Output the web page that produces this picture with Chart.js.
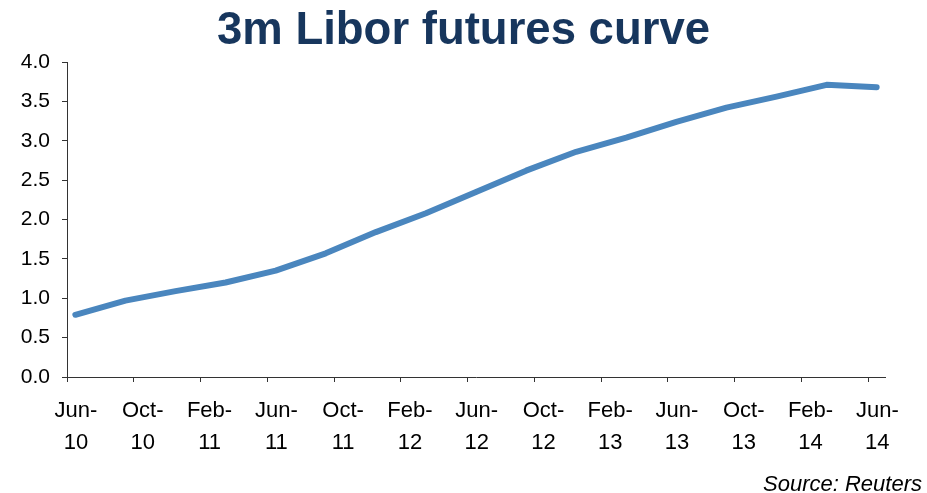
<!DOCTYPE html>
<html>
<head>
<meta charset="utf-8">
<script src="https://cdn.jsdelivr.net/npm/chart.js@4/dist/chart.umd.min.js"></script>
<style>
  html, body { margin: 0; padding: 0; background: #fff; }
  #wrap { width: 927px; height: 493px; position: relative; }
</style>
</head>
<body>
<div id="wrap"><canvas id="curve"></canvas></div>
<script>
// Quarterly 3m Libor contracts and their implied rates (%)
const contracts = ['Jun-10', 'Sep-10', 'Dec-10', 'Mar-11', 'Jun-11', 'Sep-11', 'Dec-11', 'Mar-12', 'Jun-12',
                   'Sep-12', 'Dec-12', 'Mar-13', 'Jun-13', 'Sep-13', 'Dec-13', 'Mar-14', 'Jun-14'];
const rates = [0.79, 0.97, 1.09, 1.20, 1.35, 1.57, 1.84, 2.08, 2.35, 2.62, 2.86, 3.04, 3.24, 3.42, 3.56, 3.71, 3.68];

// Date axis labels, one every four months
const tickLabels = ['Jun-10', 'Oct-10', 'Feb-11', 'Jun-11', 'Oct-11', 'Feb-12', 'Jun-12',
                    'Oct-12', 'Feb-13', 'Jun-13', 'Oct-13', 'Feb-14', 'Jun-14'];
const yTicks = [0, 0.5, 1, 1.5, 2, 2.5, 3, 3.5, 4];

const TITLE = '3m Libor futures curve';
const SOURCE = 'Source: Reuters';

const MONTHS = ['Jan', 'Feb', 'Mar', 'Apr', 'May', 'Jun', 'Jul', 'Aug', 'Sep', 'Oct', 'Nov', 'Dec'];
// months counted from the start of Jun-10
const monthIndex = lbl => {
    const [m, y] = lbl.split('-');
    return (Number(y) - 10) * 12 + MONTHS.indexOf(m) - 5;
};
// contracts settle mid-month
const points = contracts.map((c, i) => ({ x: monthIndex(c) + 0.5, y: rates[i] }));

const FONT = "'Liberation Sans', Arial, sans-serif";

// title and source line
const captions = {
    id: 'captions',
    afterDraw(chart) {
        const ctx = chart.ctx;
        ctx.save();
        ctx.fillStyle = '#17365d';
        ctx.font = `bold 45.5px ${FONT}`;
        ctx.textAlign = 'center';
        ctx.textBaseline = 'alphabetic';
        ctx.fillText(TITLE, 463.5, 44);
        ctx.fillStyle = '#000';
        ctx.font = `italic 22px ${FONT}`;
        ctx.textAlign = 'right';
        ctx.fillText(SOURCE, chart.width - 5, chart.height - 2);
        ctx.restore();
    }
};

new Chart(document.getElementById('curve'), {
    type: 'line',
    data: {
        datasets: [{
            data: points,
            borderColor: '#4a86be',
            borderWidth: 6,
            borderCapStyle: 'round',
            borderJoinStyle: 'round',
            pointRadius: 0,
            tension: 0,
            fill: false
        }]
    },
    options: {
        responsive: true,
        maintainAspectRatio: false,
        animation: false,
        layout: { padding: { top: 62, right: 42, bottom: 0, left: 0 } },
        plugins: { legend: { display: false }, tooltip: { enabled: false } },
        scales: {
            x: {
                type: 'linear',
                min: 0,
                max: 49,
                afterBuildTicks: s => { s.ticks = tickLabels.map((_, i) => ({ value: monthIndex(tickLabels[i]) })); },
                afterFit: s => { s.height = 116; },
                border: { display: true, color: '#333', width: 1 },
                grid: { drawOnChartArea: false, drawTicks: true, tickLength: 5, color: '#333' },
                ticks: {
                    color: '#000',
                    font: { family: FONT, size: 22, lineHeight: 1.45 },
                    padding: 13,
                    labelOffset: 9,
                    maxRotation: 0,
                    autoSkip: false,
                    callback: v => {
                        const lbl = tickLabels.find(t => monthIndex(t) === v);
                        if (!lbl) return '';
                        const [m, y] = lbl.split('-');
                        return [m + '-', y];
                    }
                }
            },
            y: {
                min: 0,
                max: 4,
                afterBuildTicks: s => { s.ticks = yTicks.map(v => ({ value: v })); },
                afterFit: s => { s.width = 67; },
                border: { display: true, color: '#333', width: 1 },
                grid: { drawOnChartArea: false, drawTicks: true, tickLength: 5, color: '#333' },
                ticks: {
                    color: '#000',
                    font: { family: FONT, size: 21 },
                    padding: 12,
                    callback: v => v.toFixed(1)
                }
            }
        }
    },
    plugins: [captions]
});
</script>
</body>
</html>
